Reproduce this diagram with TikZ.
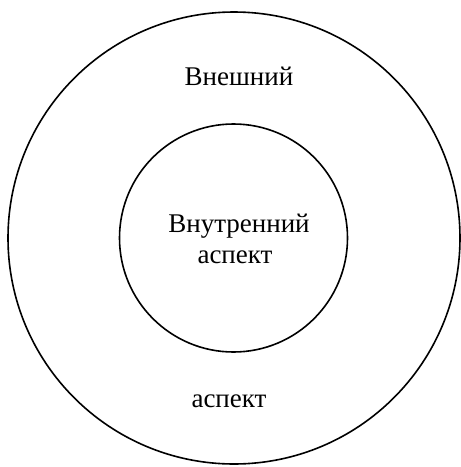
\documentclass[tikz,border=0pt]{standalone}
\usepackage{fontspec}
\setmainfont{Liberation Serif}
\begin{document}
\begin{tikzpicture}[x=1pt,y=-1pt,
  ring/.style={circle,draw=black,line width=1.6pt,inner sep=0pt},
  lbl/.style={font=\fontsize{27}{31}\selectfont,anchor=base,inner sep=0pt}]
\useasboundingbox (0,0) rectangle (461,467);
\node[ring,minimum size=452pt] (outer) at (234,238) {};
\node[ring,minimum size=228pt] (inner) at (233.5,238) {};
\node[lbl] (ext1) at (239,85) {Внешний};
\node[lbl] (ext2) at (229,407) {аспект};
\node[lbl] (int1) at (239,232) {Внутренний};
\node[lbl] (int2) at (235,263) {аспект};
\end{tikzpicture}
\end{document}
